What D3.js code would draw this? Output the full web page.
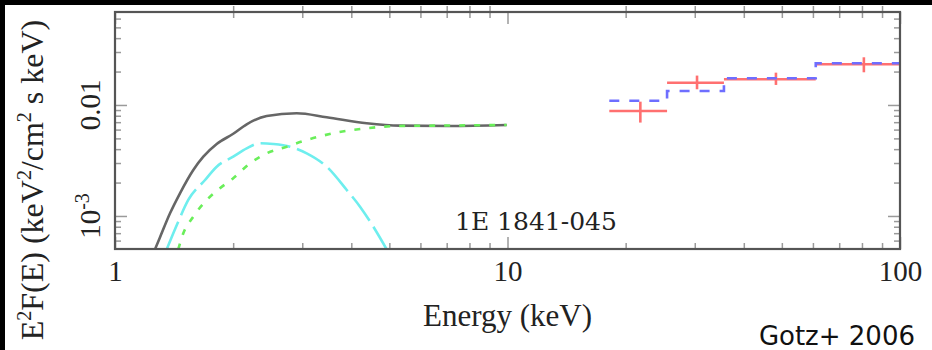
<!DOCTYPE html>
<html><head><meta charset="utf-8">
<script src="https://cdn.jsdelivr.net/npm/d3@7"></script>
<style>html,body{margin:0;padding:0;background:#000;}svg{display:block;}</style>
</head><body>
<svg id="chart" width="932" height="350"></svg>
<script>
// ---- data ----
const xDomain = [1, 100];
const yDomain = [5.04e-4, 0.0688];
const xMajorTicks = [1, 10, 100];
const xMajorLabels = ["1", "10", "100"];
const xMinorTicks = [2,3,4,5,6,7,8,9,20,30,40,50,60,70,80,90];
const yMajorTicks = [0.01, 0.001];
const yMinorTicks = [6e-4,7e-4,8e-4,9e-4,2e-3,3e-3,4e-3,5e-3,6e-3,7e-3,8e-3,9e-3,0.02,0.03,0.04,0.05,0.06];

// total model (grey)
const totalE = [1.264, 1.30, 1.381, 1.464, 1.583, 1.679, 1.816, 2.001, 2.165, 2.435, 2.904, 3.462, 4.378, 5.324, 7.137, 9.95];
const totalF = [5.0e-4, 6.34e-4, 1.057e-3, 1.601e-3, 2.597e-3, 3.42e-3, 4.45e-3, 5.5e-3, 6.7e-3, 7.96e-3, 8.42e-3, 7.75e-3, 6.84e-3, 6.51e-3, 6.47e-3, 6.60e-3];
// blackbody (cyan)
const bbE = [1.354, 1.449, 1.537, 1.696, 1.816, 2.001, 2.165, 2.341, 2.532, 2.792, 3.079, 3.462, 3.894, 4.210, 4.551, 4.923];
const bbF = [5.0e-4, 8.88e-4, 1.393e-3, 2.11e-3, 2.78e-3, 3.42e-3, 4.07e-3, 4.52e-3, 4.45e-3, 4.21e-3, 3.67e-3, 2.78e-3, 1.715e-3, 1.213e-3, 8.01e-4, 5.0e-4];
// power law (green)
const plE = [1.449, 1.493, 1.583, 1.713, 1.851, 2.001, 2.208, 2.435, 2.738, 3.079, 3.599, 4.378, 5.324, 6.471, 9.95];
const plF = [5.0e-4, 6.98e-4, 9.86e-4, 1.393e-3, 1.776e-3, 2.186e-3, 2.98e-3, 3.67e-3, 4.21e-3, 4.84e-3, 5.56e-3, 6.17e-3, 6.47e-3, 6.51e-3, 6.60e-3];
// INTEGRAL data (red)
const binLo = [18.17, 25.5, 35.6, 61.0];
const binHi = [25.5, 35.6, 61.0, 100];
const binMid = [21.8, 30.4, 48.3, 80.9];
const dataF = [0.00883, 0.01588, 0.01704, 0.02327];
const errLo = [0.00694, 0.01385, 0.01515, 0.01970];
const errHi = [0.01071, 0.0184, 0.01955, 0.02689];
// model in INTEGRAL band (blue)
const modelF = [0.01093, 0.01337, 0.0174, 0.02377];

// ---- layout ----
const L = 115, R = 900, T = 12, B = 249;
const svg = d3.select("#chart");
svg.append("rect").attr("x",0).attr("y",0).attr("width",932).attr("height",350).attr("fill","#000");
svg.append("rect").attr("x",5).attr("y",5).attr("width",927).attr("height",345).attr("fill","#fff");

const x = d3.scaleLog().domain(xDomain).range([L, R]);
const y = d3.scaleLog().domain(yDomain).range([B, T]);

svg.append("defs").append("clipPath").attr("id","clip")
  .append("rect").attr("x",L).attr("y",T).attr("width",R-L).attr("height",B-T);

const tickCol = "#9a9a9a";
function styleAxis(g){ g.select(".domain").remove(); g.selectAll(".tick line").attr("stroke",tickCol).attr("stroke-width",1.5); }

// bottom
svg.append("g").attr("transform",`translate(0,${B})`)
  .call(d3.axisBottom(x).tickValues(xMinorTicks).tickSize(-6).tickFormat(""))
  .call(styleAxis);
const bx = svg.append("g").attr("transform",`translate(0,${B})`)
  .call(d3.axisBottom(x).tickValues(xMajorTicks).tickSize(-12).tickPadding(11)
    .tickFormat((d,i)=>xMajorLabels[i]))
  .call(styleAxis);
bx.selectAll("text").attr("font-family","'Liberation Serif', serif").attr("font-size",29).attr("fill","#222");
// top (ticks cross the line)
[6,-6].forEach(s=>{
  svg.append("g").attr("transform",`translate(0,${T})`)
    .call(d3.axisTop(x).tickValues(xMinorTicks).tickSize(s).tickFormat(""))
    .call(styleAxis);
});
svg.append("g").attr("transform",`translate(0,${T})`)
  .call(d3.axisTop(x).tickValues(xMajorTicks).tickSize(-12).tickFormat(""))
  .call(styleAxis);
// left
svg.append("g").attr("transform",`translate(${L},0)`)
  .call(d3.axisLeft(y).tickValues(yMinorTicks).tickSize(-6).tickFormat(""))
  .call(styleAxis);
svg.append("g").attr("transform",`translate(${L},0)`)
  .call(d3.axisLeft(y).tickValues(yMajorTicks).tickSize(-12).tickFormat(""))
  .call(styleAxis);
// right
svg.append("g").attr("transform",`translate(${R},0)`)
  .call(d3.axisRight(y).tickValues(yMinorTicks).tickSize(-6).tickFormat(""))
  .call(styleAxis);
svg.append("g").attr("transform",`translate(${R},0)`)
  .call(d3.axisRight(y).tickValues(yMajorTicks).tickSize(-12).tickFormat(""))
  .call(styleAxis);

// y tick labels (rotated)
const serif = "'Liberation Serif', serif";
svg.append("text").attr("transform",`translate(100,${y(0.01)}) rotate(-90)`)
  .attr("text-anchor","middle").attr("font-family",serif).attr("font-size",29).attr("fill","#222").text("0.01");
const t2 = svg.append("text").attr("transform",`translate(100,${y(0.001)}) rotate(-90)`)
  .attr("text-anchor","middle").attr("font-family",serif).attr("font-size",29).attr("fill","#222");
t2.append("tspan").text("10");
t2.append("tspan").attr("dy",-11).attr("font-size",20).text("-3");

// plot
const plot = svg.append("g").attr("clip-path","url(#clip)");
const line = d3.line().x(d=>x(d[0])).y(d=>y(d[1])).curve(d3.curveMonotoneX);
const zip = (a,b)=>a.map((v,i)=>[v,b[i]]);

plot.append("path").attr("d",line(zip(totalE,totalF))).attr("fill","none")
  .attr("stroke","#666").attr("stroke-width",2.6);
plot.append("path").attr("d",line(zip(bbE,bbF))).attr("fill","none")
  .attr("stroke","#6eeeee").attr("stroke-width",2.6).attr("stroke-dasharray","30,7");
plot.append("path").attr("d",line(zip(plE,plF))).attr("fill","none")
  .attr("stroke","#6aee5a").attr("stroke-width",2.6).attr("stroke-dasharray","6,9");

// red data
const red = "#ff7070";
binLo.forEach((lo,i)=>{
  plot.append("line").attr("x1",x(lo)).attr("x2",x(binHi[i])).attr("y1",y(dataF[i])).attr("y2",y(dataF[i]))
    .attr("stroke",red).attr("stroke-width",2.6);
  plot.append("line").attr("x1",x(binMid[i])).attr("x2",x(binMid[i])).attr("y1",y(errLo[i])).attr("y2",y(errHi[i]))
    .attr("stroke",red).attr("stroke-width",2.6);
});
// blue model steps
const stepPts = binLo.map((lo,i)=>[lo, modelF[i]]).concat([[binHi[binHi.length-1], modelF[modelF.length-1]]]);
plot.append("path").attr("d",d3.line().x(d=>x(d[0])).y(d=>y(d[1])).curve(d3.curveStepAfter)(stepPts))
  .attr("fill","none").attr("stroke","#6e6eff").attr("stroke-width",2.6).attr("stroke-dasharray","10,10");

svg.append("rect").attr("x",L).attr("y",T).attr("width",R-L).attr("height",B-T)
  .attr("fill","none").attr("stroke","#555").attr("stroke-width",2.2);

// labels
svg.append("text").attr("x",455).attr("y",230).attr("font-family","'DejaVu Serif', serif").attr("font-size",25)
  .attr("fill","#222").text("1E 1841-045");
svg.append("text").attr("x",(L+R)/2).attr("y",326).attr("text-anchor","middle").attr("font-family",serif)
  .attr("font-size",31).attr("fill","#222").text("Energy (keV)");
const yl = svg.append("text").attr("transform","translate(43,180) rotate(-90)").attr("text-anchor","middle")
  .attr("font-family",serif).attr("font-size",32).attr("fill","#222");
yl.append("tspan").text("E");
yl.append("tspan").attr("dy",-12).attr("font-size",20).text("2");
yl.append("tspan").attr("dy",12).text("F(E) (keV");
yl.append("tspan").attr("dy",-12).attr("font-size",20).text("2");
yl.append("tspan").attr("dy",12).text("/cm");
yl.append("tspan").attr("dy",-12).attr("font-size",20).text("2");
yl.append("tspan").attr("dy",12).text(" s keV)");
svg.append("text").attr("x",915).attr("y",345).attr("text-anchor","end").attr("font-family","'DejaVu Sans', sans-serif")
  .attr("font-size",26).attr("fill","#111").text("Gotz+ 2006");
</script>
</body></html>
